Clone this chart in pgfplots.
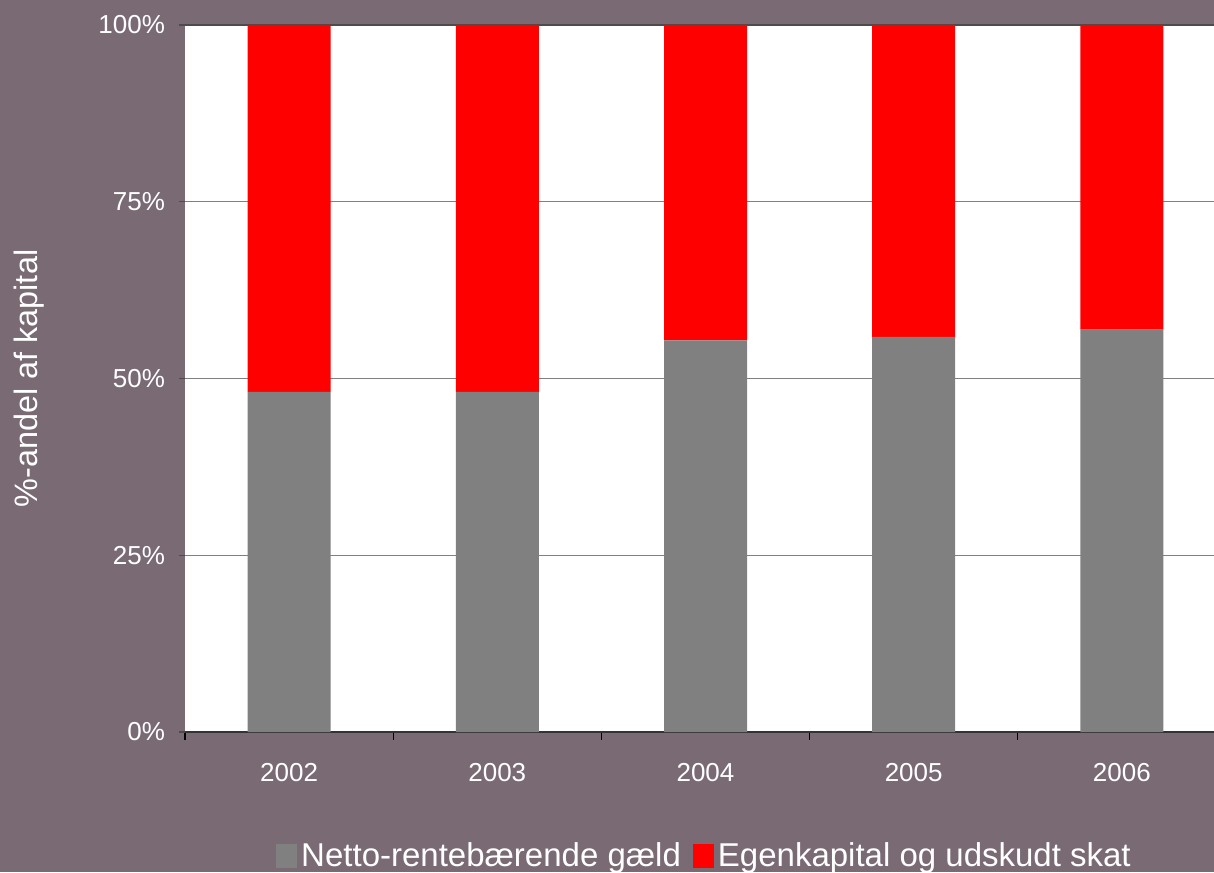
\documentclass[border=0pt]{standalone}
\usepackage{pgfplots}
\pgfplotsset{compat=1.18}
\usepackage{fontspec}
\setmainfont{Liberation Sans}
\usetikzlibrary{backgrounds}
\definecolor{bgc}{RGB}{121,106,116}
\definecolor{debt}{RGB}{128,128,128}
\definecolor{equity}{RGB}{255,0,0}

\begin{document}
\begin{tikzpicture}
\begin{axis}[
    width=520.5pt, height=353.5pt,
    scale only axis,
    ybar stacked,
    bar width=41.5pt,
    xmin=-0.5, xmax=4.5,
    ymin=0, ymax=100,
    axis background/.style={fill=white},
    axis x line*=bottom,
    axis y line*=left,
    y axis line style={draw=none},
    x axis line style={draw=black!80, line width=0.8pt},
    xtick={0,1,2,3,4},
    xticklabels={2002,2003,2004,2005,2006},
    minor xtick={-0.5,0.5,...,4.5},
    tick align=outside,
    major x tick style={draw=none},
    minor x tick style={draw=black, line width=0.6pt},
    minor tick length=4pt,
    ytick={0,25,50,75},
    extra y ticks={100},
    extra y tick style={grid style={draw=black!70, line width=0.9pt}},
    major tick length=3pt,
    y tick style={draw=black!70, line width=0.6pt},
    /pgf/number format/assume math mode=true,
    yticklabel={\pgfmathprintnumber{\tick}\%},
    ymajorgrids,
    grid style={draw=debt, line width=0.6pt},
    tick label style={font=\fontsize{13}{15}\selectfont, text=white},
    yticklabel style={xshift=-3.5pt},
    xticklabel style={yshift=-9pt},
    ylabel={\%-andel af kapital},
    ylabel style={at={(axis description cs:0,0.5)}, anchor=center, yshift=78pt,
        font=\fontsize{16.2}{18}\selectfont, text=white},
    legend style={at={(axis description cs:0.5,0)}, anchor=center, yshift=-62pt,
        draw=none, fill=none, legend columns=-1,
        font=\fontsize{16.5}{18}\selectfont, text=white,
        /tikz/every even column/.append style={column sep=4pt}},
    legend image code/.code={\fill[#1] (0pt,-6pt) rectangle (10.5pt,6pt);},
    legend cell align=left,
]
\addplot[fill=debt, draw=none] coordinates {(0,48.1) (1,48.1) (2,55.4) (3,55.9) (4,56.9)};
\addplot[fill=equity, draw=none] coordinates {(0,51.9) (1,51.9) (2,44.6) (3,44.1) (4,43.1)};
\legend{Netto-renteb\ae rende g\ae ld, Egenkapital og udskudt skat}
\coordinate (ll) at (rel axis cs:0,0);
\end{axis}
\begin{pgfonlayer}{background}
\fill[bgc] (ll) ++(-92.5pt,-70pt) rectangle ++(607pt,436pt);
\end{pgfonlayer}
\pgfresetboundingbox
\path[use as bounding box] (ll) ++(-92.5pt,-70pt) rectangle ++(607pt,436pt);
\end{tikzpicture}
\end{document}
